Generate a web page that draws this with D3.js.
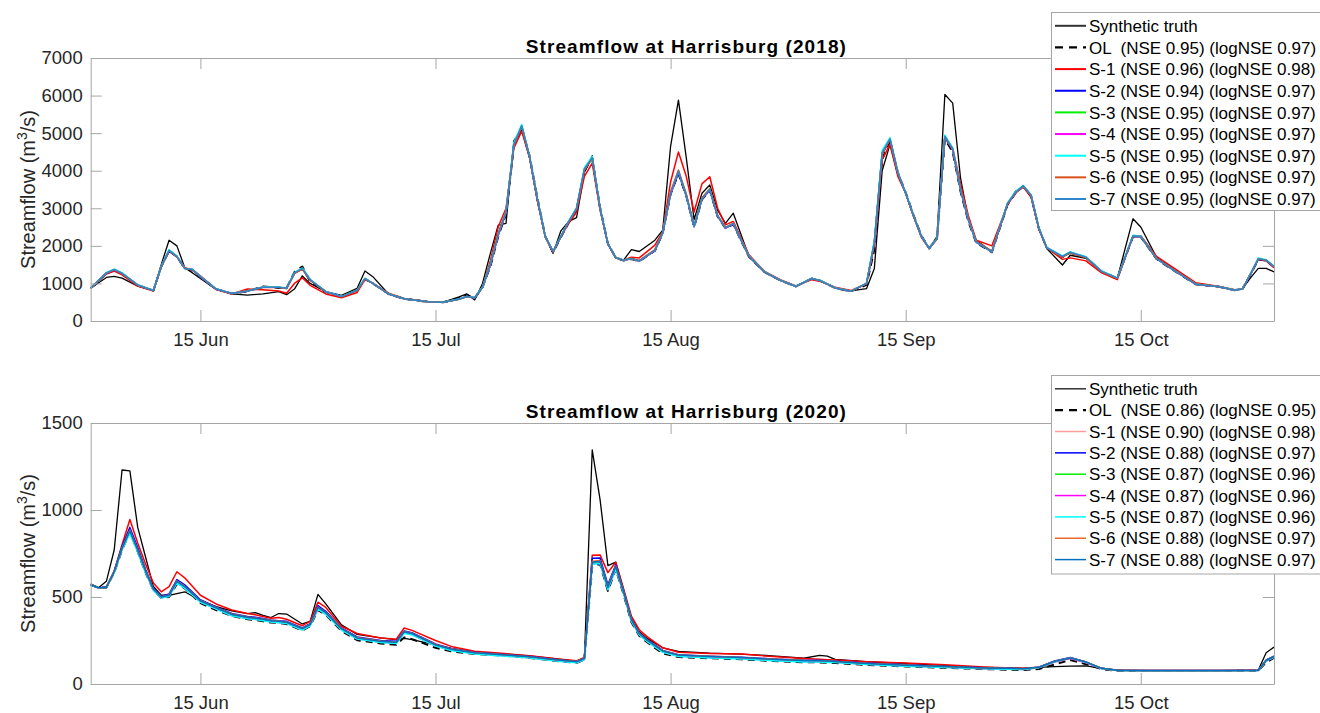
<!DOCTYPE html>
<html>
<head>
<meta charset="utf-8">
<script src="https://cdn.jsdelivr.net/npm/d3@7"></script>
<style>
  body { margin: 0; background: #fff; }
  text { font-family: "Liberation Sans", Arial, sans-serif; }
</style>
</head>
<body>
<svg id="chart" width="1320" height="713"></svg>
<script>
// ---- shared x axis (day index from 1 June-ish) ----
const TICK_DAYS = [15, 45, 75, 105, 135];
const TICK_LABELS = ["15 Jun", "15 Jul", "15 Aug", "15 Sep", "15 Oct"];

// ---- 2018 panel ----
const P1_DAYS = [1,3,4,5,7,9,10,11,12,13,14,15,17,19,21,23,25,26,27,28,29,31,33,35,36,37,39,41,44,46,48,49,50,51,52,53,54,55,56,57,58,59,60,61,62,63,64,65,66,67,68,69,70,71,73,74,75,76,77,78,79,80,81,82,83,85,87,89,91,93,94,96,98,100,101,102,103,104,105,106,107,108,109,110,111,112,113,114,116,118,119,120,121,122,123,125,126,128,130,132,134,135,137,139,142,145,147,148,149,150,151,152];
const P1_TRUTH = [870,1160,1190,1140,930,810,1500,2150,2000,1420, 1280,1130,840,720,690,720,780,700,850,1200, 1000,780,680,870,1330,1180,720,600,520,500, 640,720,560,1000,1800,2550,2600,4800,5100,4350, 3200,2250,1800,2400,2650,2750,3950,4400,3000,2050, 1700,1620,1900,1850,2150,2420,4650,5880,4350,2700, 3400,3620,2950,2600,2870,1720,1300,1080,930,1130, 1090,890,800,860,1400,4000,4700,3900,3400,2800, 2250,1930,2250,6030,5800,3800,2700,2150,1850,3100, 3450,3580,3300,2450,1930,1490,1750,1670,1320,1130, 2720,2500,1700,1400,1000,910,820,860,1150,1400, 1400,1310];
const P1_OL = [870,1270,1350,1260,950,810,1450,1870,1710,1400, 1360,1170,850,730,790,920,880,880,1300,1450, 1050,770,650,810,1120,1000,720,590,510,500, 610,700,600,900,1450,2250,2850,4650,5150,4400, 3280,2260,1830,2230,2620,2950,4000,4320,3020,2060, 1680,1610,1650,1590,1870,2340,3380,3920,3330,2500, 3230,3480,2780,2470,2570,1710,1300,1080,920,1130, 1080,880,790,960,1900,4300,4800,3950,3420,2820, 2270,1940,2200,4850,4500,3450,2650,2080,1830,3100, 3400,3580,3330,2460,1940,1700,1820,1690,1320,1140, 2240,2240,1650,1370,980,910,820,860,1230,1640, 1610,1440];
const P1_S1 = [880,1250,1330,1230,930,800,1450,1880,1720,1420, 1360,1200,840,720,850,830,800,740,1000,1150, 950,720,620,760,1100,1010,740,600,510,500, 580,650,620,900,1600,2500,3000,4600,5050,4350, 3200,2250,1830,2250,2600,2900,3850,4200,2950,2050, 1680,1620,1700,1680,2020,2380,3700,4500,3850,2900, 3650,3840,3000,2560,2650,1760,1320,1100,930,1100, 1060,900,810,1000,2000,4300,4700,3850,3400,2780, 2230,1930,2200,4900,4600,3650,2800,2150,2000,3100, 3400,3580,3300,2450,1950,1640,1680,1600,1280,1100, 2250,2270,1720,1440,1020,920,830,860,1250,1640, 1600,1420];
const P1_S2 = [880,1275,1360,1265,955,810,1440,1860,1710,1400, 1365,1175,850,730,795,905,895,870,1270,1390, 1090,780,650,815,1120,1000,720,590,510,500, 585,655,615,900,1480,2280,2880,4680,5170,4370, 3240,2250,1840,2240,2640,2980,4020,4330,2990,2050, 1680,1615,1655,1595,1870,2340,3370,3940,3330,2510, 3240,3480,2790,2470,2580,1720,1300,1080,920,1130, 1080,880,790,990,2060,4440,4820,3940,3400,2800, 2250,1930,2190,4880,4550,3480,2690,2100,1840,3120, 3410,3590,3340,2460,1950,1710,1820,1690,1320,1140, 2240,2240,1660,1380,980,910,820,860,1240,1650, 1610,1440];
const P1_S3 = [880,1278,1368,1268,958,810,1448,1878,1718,1400, 1368,1178,850,730,798,898,898,868,1278,1398, 1098,780,650,818,1128,1000,720,590,510,500, 580,650,618,898,1495,2295,2895,4695,5195,4378, 3248,2250,1848,2248,2648,2998,4045,4345,2998,2050, 1680,1618,1658,1598,1878,2348,3395,3975,3348,2518, 3248,3498,2798,2478,2588,1720,1300,1080,920,1130, 1080,880,790,998,2095,4475,4845,3948,3400,2800, 2250,1930,2198,4915,4575,3498,2698,2098,1840,3128, 3418,3598,3348,2468,1948,1718,1828,1698,1320,1140, 2258,2248,1660,1380,980,910,820,860,1248,1658, 1618,1448];
const P1_S4 = [878,1276,1364,1266,956,810,1446,1872,1714,1400, 1366,1176,850,730,796,902,896,868,1276,1396, 1096,780,650,816,1126,1000,720,590,510,500, 582,652,618,900,1490,2290,2890,4690,5190,4375, 3245,2250,1845,2245,2645,2995,4040,4340,2995,2050, 1680,1618,1656,1598,1876,2346,3390,3970,3345,2515, 3245,3495,2795,2476,2586,1720,1300,1080,920,1130, 1080,880,790,996,2090,4470,4840,3945,3400,2800, 2250,1930,2196,4910,4570,3495,2696,2098,1840,3126, 3416,3596,3346,2466,1948,1716,1826,1696,1320,1140, 2256,2246,1660,1380,980,910,820,860,1246,1656, 1616,1446];
const P1_S5 = [880,1290,1380,1280,965,815,1460,1900,1730,1400, 1375,1190,855,735,805,905,905,875,1290,1410, 1110,785,655,825,1140,1010,725,595,515,505, 585,655,625,910,1520,2320,2920,4750,5230,4400, 3260,2260,1855,2260,2660,3020,4080,4380,3010,2060, 1690,1625,1665,1605,1890,2360,3420,4000,3360,2530, 3270,3520,2810,2490,2600,1730,1310,1085,925,1135, 1085,885,795,1010,2150,4540,4880,3970,3410,2810, 2260,1940,2210,4950,4600,3510,2710,2110,1850,3150, 3440,3610,3360,2480,1960,1730,1840,1710,1330,1145, 2280,2260,1670,1390,985,915,825,865,1260,1680, 1630,1460];
const P1_S6 = [880,1274,1362,1262,952,808,1444,1870,1712,1404, 1362,1184,848,728,810,890,890,862,1260,1380, 1080,776,646,812,1118,1004,724,592,510,500, 582,648,616,896,1500,2320,2920,4680,5170,4370, 3240,2252,1846,2246,2640,2990,4020,4320,2990,2052, 1682,1620,1664,1610,1900,2356,3440,4020,3380,2540, 3280,3520,2810,2490,2596,1724,1304,1082,922,1126, 1076,882,792,998,2080,4450,4830,3940,3400,2798, 2248,1930,2198,4900,4560,3520,2720,2110,1860,3120, 3410,3590,3340,2462,1948,1700,1810,1680,1312,1134, 2256,2252,1666,1388,986,912,822,860,1248,1656, 1614,1444];
const P1_S7 = [880,1280,1370,1270,960,810,1450,1880,1720,1400, 1370,1180,850,730,800,900,900,870,1280,1400, 1100,780,650,820,1130,1000,720,590,510,500, 580,650,620,900,1500,2300,2900,4700,5200,4380, 3250,2250,1850,2250,2650,3000,4050,4350,3000,2050, 1680,1620,1660,1600,1880,2350,3400,3980,3350,2520, 3250,3500,2800,2480,2590,1720,1300,1080,920,1130, 1080,880,790,1000,2100,4480,4850,3950,3400,2800, 2250,1930,2200,4920,4580,3500,2700,2100,1840,3130, 3420,3600,3350,2470,1950,1720,1830,1700,1320,1140, 2260,2250,1660,1380,980,910,820,860,1250,1660, 1620,1450];
const P1_LABELS = ["Synthetic truth", "OL  (NSE 0.95) (logNSE 0.97)", "S-1 (NSE 0.96) (logNSE 0.98)", "S-2 (NSE 0.94) (logNSE 0.97)", "S-3 (NSE 0.95) (logNSE 0.97)", "S-4 (NSE 0.95) (logNSE 0.97)", "S-5 (NSE 0.95) (logNSE 0.97)", "S-6 (NSE 0.95) (logNSE 0.97)", "S-7 (NSE 0.95) (logNSE 0.97)"];
const P1_YTICKS = [0, 1000, 2000, 3000, 4000, 5000, 6000, 7000];

// ---- 2020 panel ----
const P2_DAYS = [1,2,3,4,5,6,7,8,9,10,11,12,13,15,17,19,21,22,23,24,25,26,28,29,30,31,33,35,38,40,41,42,45,47,50,53,57,61,63,64,65,66,67,68,69,70,71,72,74,76,80,84,88,92,94,95,96,100,105,110,115,120,122,124,126,128,130,132,136,140,145,150,151,152];
const P2_TRUTH = [575,553,590,770,1230,1225,900,730,560,510, 510,520,530,480,445,420,405,410,395,382, 405,402,345,360,515,460,340,285,265,255, 262,255,225,205,182,175,162,142,132,150, 1345,1060,680,700,540,380,300,262,208,188, 178,172,162,148,165,160,142,128,118,106, 96,90,96,100,103,104,90,80,77,77, 77,80,180,212];
const P2_OL = [570,553,555,640,770,875,760,640,540,495, 500,575,550,465,425,392,372,368,360,354, 350,345,308,332,425,398,305,252,233,225, 268,258,208,188,172,165,150,130,122,140, 675,690,535,660,515,355,278,240,175,155, 148,142,132,125,124,122,120,110,101,93, 86,80,86,112,138,114,86,76,74,74, 75,76,125,150];
const P2_S1 = [570,553,555,650,800,945,810,690,580,530, 560,645,610,510,460,425,405,398,388,378, 382,372,335,360,470,440,332,290,265,257, 322,308,250,216,188,178,162,142,133,152, 740,742,640,700,548,390,312,272,208,183, 176,172,158,146,142,140,138,128,120,110, 98,90,96,130,150,126,90,79,77,77, 77,79,135,158];
const P2_S2 = [570,553,556,648,790,900,785,660,550,505, 518,600,570,484,443,405,388,383,376,368, 364,360,322,347,450,418,322,270,250,246, 305,295,230,204,183,172,158,138,130,148, 722,724,570,685,535,375,294,256,193,168, 160,154,144,137,136,134,131,120,110,101, 93,88,96,132,152,127,90,79,77,77, 77,79,138,160];
const P2_S3 = [570,553,555,644,778,878,768,648,544,499, 508,588,558,476,436,398,381,376,370,362, 358,353,316,340,438,408,316,263,243,238, 298,288,223,198,178,168,154,134,126,144, 698,702,552,672,528,368,288,250,188,164, 156,150,140,133,132,130,128,116,106,98, 90,86,95,128,148,124,89,78,76,76, 76,78,134,156];
const P2_S4 = [570,553,555,642,775,872,762,642,540,496, 505,582,553,472,432,394,377,372,366,358, 354,349,312,336,432,402,312,260,240,235, 294,284,220,195,175,165,151,131,124,141, 690,695,545,665,522,362,284,246,184,160, 152,146,136,129,128,126,125,113,103,96, 88,84,94,126,147,122,88,77,76,76, 76,78,132,154];
const P2_S5 = [570,553,555,640,770,865,758,640,538,494, 503,580,550,470,430,392,375,370,364,356, 352,347,310,334,430,400,310,258,238,233, 292,282,218,193,173,163,150,130,122,140, 688,692,542,662,520,360,282,244,182,158, 150,144,134,127,126,124,123,112,102,95, 87,83,94,128,150,124,88,77,76,76, 76,78,132,154];
const P2_S6 = [570,553,555,646,782,885,772,652,546,502, 512,592,562,480,440,402,385,380,374,366, 362,357,320,344,442,412,320,267,247,242, 302,292,227,202,181,171,157,137,129,147, 705,710,560,678,532,372,292,254,191,167, 159,153,143,136,135,133,130,119,109,100, 92,88,96,130,150,126,90,79,77,77, 77,79,136,158];
const P2_S7 = [570,553,555,645,780,880,770,650,545,500, 510,590,560,478,438,400,383,378,372,364, 360,355,318,342,440,410,318,265,245,240, 300,290,225,200,180,170,156,136,128,146, 700,705,555,675,530,370,290,252,190,166, 158,152,142,135,134,132,130,118,108,100, 92,88,96,130,150,126,90,79,77,77, 77,79,135,158];
const P2_LABELS = ["Synthetic truth", "OL  (NSE 0.86) (logNSE 0.95)", "S-1 (NSE 0.90) (logNSE 0.98)", "S-2 (NSE 0.88) (logNSE 0.97)", "S-3 (NSE 0.87) (logNSE 0.96)", "S-4 (NSE 0.87) (logNSE 0.96)", "S-5 (NSE 0.87) (logNSE 0.96)", "S-6 (NSE 0.88) (logNSE 0.97)", "S-7 (NSE 0.88) (logNSE 0.97)"];
const P2_YTICKS = [0, 500, 1000, 1500];

const P1_COLORS = ["#000000", "#000000", "#ff0000", "#0000ff", "#00ee00", "#ff00ff", "#00ffff", "#d95319", "#2f86c8"];
const P2_COLORS = ["#000000", "#000000", "#ff0000", "#0000ff", "#00ee00", "#ff00ff", "#00ffff", "#e8692a", "#0072bd"];

const svg = d3.select("#chart");
const AXIS_COLOR = "#a6a6a6";
const TEXT_COLOR = "#262626";

const x = d3.scaleLinear().domain([1, 152]).range([90.7, 1274]);

function drawPanel(cfg) {
  const y = d3.scaleLinear().domain([0, cfg.yMax]).range([cfg.bottom, cfg.top]);
  const g = svg.append("g");

  // 曲线
  cfg.series.forEach((vals, k) => {
    const line = d3.line()
      .x((d, i) => x(cfg.days[i]))
      .y(d => y(d));
    g.append("path")
      .attr("d", line(vals))
      .attr("fill", "none")
      .attr("stroke", cfg.colors[k])
      .attr("stroke-width", k === 0 ? 1.3 : (k === 1 ? 2 : 1.5))
      .attr("stroke-dasharray", k === 1 ? "7,5" : null)
      .attr("stroke-linejoin", "round");
  });

  // 坐标轴 (刻度朝内, 四边)
  const axB = g.append("g").attr("transform", `translate(0,${cfg.bottom})`)
    .call(d3.axisBottom(x).tickValues(TICK_DAYS).tickFormat((d, i) => TICK_LABELS[i])
      .tickSizeInner(-11).tickSizeOuter(0).tickPadding(12));
  const axT = g.append("g").attr("transform", `translate(0,${cfg.top})`)
    .call(d3.axisTop(x).tickValues(TICK_DAYS).tickFormat("")
      .tickSizeInner(-11).tickSizeOuter(0));
  const axL = g.append("g").attr("transform", `translate(${x.range()[0]},0)`)
    .call(d3.axisLeft(y).tickValues(cfg.yTicks).tickFormat(d3.format("d"))
      .tickSizeInner(-11).tickSizeOuter(0).tickPadding(8));
  const axR = g.append("g").attr("transform", `translate(${x.range()[1]},0)`)
    .call(d3.axisRight(y).tickValues(cfg.yTicks).tickFormat("")
      .tickSizeInner(-11).tickSizeOuter(0));

  [axB, axT, axL, axR].forEach(a => {
    a.selectAll("path, line").attr("stroke", AXIS_COLOR);
    a.selectAll("text").attr("fill", TEXT_COLOR).attr("font-size", "18.5px")
      .attr("font-family", '"Liberation Sans", Arial, sans-serif');
  });

  // 标题
  g.append("text")
    .attr("x", (x.range()[0] + x.range()[1]) / 2 + 4)
    .attr("y", cfg.top - 5)
    .attr("text-anchor", "middle")
    .attr("font-size", "19px")
    .attr("font-weight", "bold")
    .attr("letter-spacing", "1.1px")
    .attr("fill", "#000")
    .text(cfg.title);

  // y 轴标题
  const yl = g.append("text")
    .attr("transform", `translate(35,${(cfg.top + cfg.bottom) / 2}) rotate(-90)`)
    .attr("text-anchor", "middle")
    .attr("font-size", "20px")
    .attr("fill", TEXT_COLOR);
  yl.append("tspan").text("Streamflow (m");
  yl.append("tspan").attr("font-size", "14px").attr("dy", "-8").text("3");
  yl.append("tspan").attr("dy", "8").text("/s)");

  // 图例
  const lg = svg.append("g");
  lg.append("rect")
    .attr("x", 1051.5).attr("y", cfg.legendTop)
    .attr("width", 300).attr("height", cfg.legendH)
    .attr("fill", "#fff").attr("stroke", AXIS_COLOR);
  cfg.labels.forEach((lab, k) => {
    const yy = cfg.legendTop + 13.3 + k * cfg.legendStep;
    lg.append("line")
      .attr("x1", 1055).attr("x2", 1086).attr("y1", yy).attr("y2", yy)
      .attr("stroke", cfg.legendColors[k])
      .attr("stroke-width", k === 1 ? 2.2 : cfg.legendWidth)
      .attr("stroke-dasharray", k === 1 ? "8,6" : null);
    lg.append("text")
      .attr("x", 1089).attr("y", yy).attr("dy", "0.36em")
      .attr("font-size", "17px")
      .attr("fill", "#000")
      .style("white-space", "pre")
      .text(lab);
  });
}

drawPanel({
  title: "Streamflow at Harrisburg (2018)",
  days: P1_DAYS,
  series: [P1_TRUTH, P1_OL, P1_S1, P1_S2, P1_S3, P1_S4, P1_S5, P1_S6, P1_S7],
  colors: P1_COLORS,
  legendColors: ["#333333"].concat(P1_COLORS.slice(1)),
  legendWidth: 2,
  labels: P1_LABELS,
  yMax: 7000, yTicks: P1_YTICKS,
  top: 58, bottom: 321,
  legendTop: 12.5, legendH: 198, legendStep: 21.65
});

drawPanel({
  title: "Streamflow at Harrisburg (2020)",
  days: P2_DAYS,
  series: [P2_TRUTH, P2_OL, P2_S1, P2_S2, P2_S3, P2_S4, P2_S5, P2_S6, P2_S7],
  colors: P2_COLORS,
  legendColors: ["#333333", "#000000", "#ff9c9c"].concat(P2_COLORS.slice(3)),
  legendWidth: 1.5,
  labels: P2_LABELS,
  yMax: 1500, yTicks: P2_YTICKS,
  top: 423, bottom: 684,
  legendTop: 375.5, legendH: 198.5, legendStep: 21.35
});
</script>
</body>
</html>
